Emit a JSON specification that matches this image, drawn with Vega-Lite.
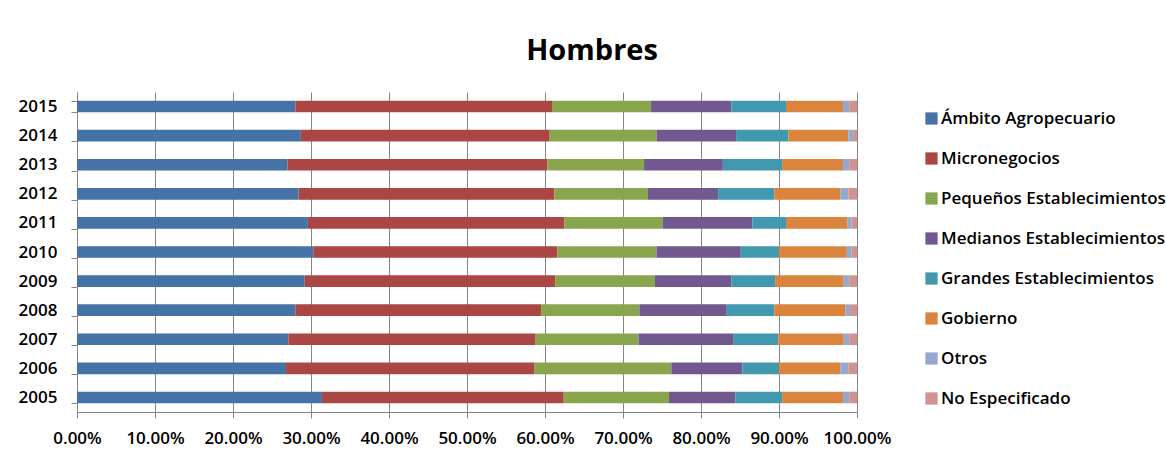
{
  "$schema": "https://vega.github.io/schema/vega-lite/v6.json",
  "width": 780,
  "height": 320,
  "autosize": {"type": "none"},
  "padding": {"left": 77, "top": 92, "right": 309, "bottom": 41},
  "background": "white",
  "title": {"text": "Hombres", "fontSize": 29, "font": "Open Sans", "fontWeight": "bold", "color": "#000000", "anchor": "middle", "dx": 125, "offset": 17},
  "data": {
    "values": [
      {"year": "2015", "cat": "Ámbito Agropecuario", "value": 28.0},
      {"year": "2015", "cat": "Micronegocios", "value": 32.9},
      {"year": "2015", "cat": "Pequeños Establecimientos", "value": 12.7},
      {"year": "2015", "cat": "Medianos Establecimientos", "value": 10.3},
      {"year": "2015", "cat": "Grandes Establecimientos", "value": 7.0},
      {"year": "2015", "cat": "Gobierno", "value": 7.3},
      {"year": "2015", "cat": "Otros", "value": 0.8},
      {"year": "2015", "cat": "No Especificado", "value": 1.0},
      {"year": "2014", "cat": "Ámbito Agropecuario", "value": 28.7},
      {"year": "2014", "cat": "Micronegocios", "value": 31.9},
      {"year": "2014", "cat": "Pequeños Establecimientos", "value": 13.7},
      {"year": "2014", "cat": "Medianos Establecimientos", "value": 10.2},
      {"year": "2014", "cat": "Grandes Establecimientos", "value": 6.7},
      {"year": "2014", "cat": "Gobierno", "value": 7.7},
      {"year": "2014", "cat": "Otros", "value": 0.6},
      {"year": "2014", "cat": "No Especificado", "value": 0.5},
      {"year": "2013", "cat": "Ámbito Agropecuario", "value": 27.0},
      {"year": "2013", "cat": "Micronegocios", "value": 33.3},
      {"year": "2013", "cat": "Pequeños Establecimientos", "value": 12.4},
      {"year": "2013", "cat": "Medianos Establecimientos", "value": 10.1},
      {"year": "2013", "cat": "Grandes Establecimientos", "value": 7.6},
      {"year": "2013", "cat": "Gobierno", "value": 7.8},
      {"year": "2013", "cat": "Otros", "value": 0.8},
      {"year": "2013", "cat": "No Especificado", "value": 1.0},
      {"year": "2012", "cat": "Ámbito Agropecuario", "value": 28.4},
      {"year": "2012", "cat": "Micronegocios", "value": 32.8},
      {"year": "2012", "cat": "Pequeños Establecimientos", "value": 12.0},
      {"year": "2012", "cat": "Medianos Establecimientos", "value": 9.0},
      {"year": "2012", "cat": "Grandes Establecimientos", "value": 7.2},
      {"year": "2012", "cat": "Gobierno", "value": 8.5},
      {"year": "2012", "cat": "Otros", "value": 1.0},
      {"year": "2012", "cat": "No Especificado", "value": 1.1},
      {"year": "2011", "cat": "Ámbito Agropecuario", "value": 29.6},
      {"year": "2011", "cat": "Micronegocios", "value": 32.9},
      {"year": "2011", "cat": "Pequeños Establecimientos", "value": 12.6},
      {"year": "2011", "cat": "Medianos Establecimientos", "value": 11.5},
      {"year": "2011", "cat": "Grandes Establecimientos", "value": 4.3},
      {"year": "2011", "cat": "Gobierno", "value": 7.9},
      {"year": "2011", "cat": "Otros", "value": 0.5},
      {"year": "2011", "cat": "No Especificado", "value": 0.7},
      {"year": "2010", "cat": "Ámbito Agropecuario", "value": 30.3},
      {"year": "2010", "cat": "Micronegocios", "value": 31.3},
      {"year": "2010", "cat": "Pequeños Establecimientos", "value": 12.7},
      {"year": "2010", "cat": "Medianos Establecimientos", "value": 10.8},
      {"year": "2010", "cat": "Grandes Establecimientos", "value": 4.9},
      {"year": "2010", "cat": "Gobierno", "value": 8.7},
      {"year": "2010", "cat": "Otros", "value": 0.6},
      {"year": "2010", "cat": "No Especificado", "value": 0.7},
      {"year": "2009", "cat": "Ámbito Agropecuario", "value": 29.2},
      {"year": "2009", "cat": "Micronegocios", "value": 32.1},
      {"year": "2009", "cat": "Pequeños Establecimientos", "value": 12.8},
      {"year": "2009", "cat": "Medianos Establecimientos", "value": 9.8},
      {"year": "2009", "cat": "Grandes Establecimientos", "value": 5.6},
      {"year": "2009", "cat": "Gobierno", "value": 8.8},
      {"year": "2009", "cat": "Otros", "value": 0.7},
      {"year": "2009", "cat": "No Especificado", "value": 1.0},
      {"year": "2008", "cat": "Ámbito Agropecuario", "value": 28.0},
      {"year": "2008", "cat": "Micronegocios", "value": 31.5},
      {"year": "2008", "cat": "Pequeños Establecimientos", "value": 12.6},
      {"year": "2008", "cat": "Medianos Establecimientos", "value": 11.2},
      {"year": "2008", "cat": "Grandes Establecimientos", "value": 6.1},
      {"year": "2008", "cat": "Gobierno", "value": 9.1},
      {"year": "2008", "cat": "Otros", "value": 0.6},
      {"year": "2008", "cat": "No Especificado", "value": 0.9},
      {"year": "2007", "cat": "Ámbito Agropecuario", "value": 27.1},
      {"year": "2007", "cat": "Micronegocios", "value": 31.7},
      {"year": "2007", "cat": "Pequeños Establecimientos", "value": 13.2},
      {"year": "2007", "cat": "Medianos Establecimientos", "value": 12.2},
      {"year": "2007", "cat": "Grandes Establecimientos", "value": 5.7},
      {"year": "2007", "cat": "Gobierno", "value": 8.4},
      {"year": "2007", "cat": "Otros", "value": 0.7},
      {"year": "2007", "cat": "No Especificado", "value": 1.0},
      {"year": "2006", "cat": "Ámbito Agropecuario", "value": 26.8},
      {"year": "2006", "cat": "Micronegocios", "value": 31.8},
      {"year": "2006", "cat": "Pequeños Establecimientos", "value": 17.6},
      {"year": "2006", "cat": "Medianos Establecimientos", "value": 9.1},
      {"year": "2006", "cat": "Grandes Establecimientos", "value": 4.7},
      {"year": "2006", "cat": "Gobierno", "value": 7.9},
      {"year": "2006", "cat": "Otros", "value": 1.0},
      {"year": "2006", "cat": "No Especificado", "value": 1.1},
      {"year": "2005", "cat": "Ámbito Agropecuario", "value": 31.4},
      {"year": "2005", "cat": "Micronegocios", "value": 31.0},
      {"year": "2005", "cat": "Pequeños Establecimientos", "value": 13.5},
      {"year": "2005", "cat": "Medianos Establecimientos", "value": 8.5},
      {"year": "2005", "cat": "Grandes Establecimientos", "value": 6.0},
      {"year": "2005", "cat": "Gobierno", "value": 7.8},
      {"year": "2005", "cat": "Otros", "value": 0.8},
      {"year": "2005", "cat": "No Especificado", "value": 1.0}
    ]
  },
  "transform": [
    {"calculate": "indexof(['Ámbito Agropecuario', 'Micronegocios', 'Pequeños Establecimientos', 'Medianos Establecimientos', 'Grandes Establecimientos', 'Gobierno', 'Otros', 'No Especificado'], datum.cat)", "as": "catOrder"}
  ],
  "mark": {"type": "bar"},
  "encoding": {
    "y": {
      "field": "year", "type": "ordinal", "sort": "descending", "title": null,
      "scale": {"paddingInner": 0.6, "paddingOuter": 0.3},
      "axis": {"tickBand": "extent", "labelFontSize": 17, "labelFont": "Open Sans", "labelFontWeight": 600, "labelColor": "#000000", "labelPadding": 14, "tickSize": 6, "domainColor": "#868686", "tickColor": "#868686", "grid": false}
    },
    "x": {
      "field": "value", "type": "quantitative", "stack": "zero", "title": null,
      "scale": {"domain": [0, 100], "nice": false, "clamp": true},
      "axis": {"values": [0, 10, 20, 30, 40, 50, 60, 70, 80, 90, 100], "labelExpr": "format(datum.value / 100, '.2%')", "grid": true, "gridColor": "#868686", "labelFontSize": 17, "labelFont": "Open Sans", "labelFontWeight": 600, "labelColor": "#000000", "labelPadding": 12, "tickSize": 6, "domainColor": "#868686", "tickColor": "#868686", "labelFlush": false}
    },
    "order": {"field": "catOrder", "type": "quantitative", "sort": "ascending"},
    "color": {
      "field": "cat", "type": "nominal",
      "sort": ["Ámbito Agropecuario", "Micronegocios", "Pequeños Establecimientos", "Medianos Establecimientos", "Grandes Establecimientos", "Gobierno", "Otros", "No Especificado"],
      "scale": {
        "domain": ["Ámbito Agropecuario", "Micronegocios", "Pequeños Establecimientos", "Medianos Establecimientos", "Grandes Establecimientos", "Gobierno", "Otros", "No Especificado"],
        "range": ["#4572A7", "#AA4643", "#89A54E", "#71588F", "#4198AF", "#DB843D", "#93A9CF", "#D19392"]
      },
      "legend": {"title": null, "orient": "none", "legendX": 846, "legendY": 18, "symbolType": "square", "symbolSize": 150, "symbolStrokeWidth": 0, "labelFontSize": 17, "labelFont": "Open Sans", "labelFontWeight": 600, "labelColor": "#000000", "labelOffset": 1, "labelLimit": 400, "rowPadding": 22}
    }
  },
  "config": {"view": {"stroke": null}}
}
